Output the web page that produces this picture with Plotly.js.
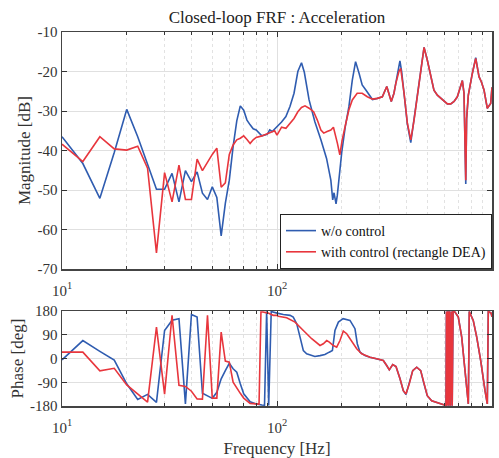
<!DOCTYPE html>
<html>
<head>
<meta charset="utf-8">
<script src="https://cdn.plot.ly/plotly-3.0.1.min.js"></script>
<style>
html,body{margin:0;padding:0;background:#fff;}
#chart{width:499px;height:458px;}
</style>
</head>
<body>
<div id="chart"></div>
<script>
// ---------- data ----------
const freqMagBlue = [10,12.5,15,17.5,20,22.5,25,27.5,30,32.5,35,37.5,40,42.5,45,47.5,50,52.5,55,57.5,60,62.5,65,67.5,70,72.5,75,77.5,80,85,90,92.5,95,100,105,110,115,120,125,130,134,141,150,160,170,178,181.6,184.2,188.2,190.8,194.9,200,208,216,224,232,241,249,259,268,278,293,309,324,340,350,357,363,373,380,390,404,419,434,449,466,483,500,519,537,557,577,598,620,643,666,690,715,728,741,755,762,776,810,840,870,892,918,951,986,1000];
const magBlue = [-36.5,-43.3,-52.1,-40.5,-29.6,-36.5,-43.5,-49.8,-49.8,-45.8,-53.0,-45.1,-47.9,-45.4,-50.8,-52.4,-49.2,-51.9,-61.6,-53.4,-47.5,-39,-32.5,-28.7,-29.8,-32.3,-33.5,-34.5,-34.8,-36.3,-35.9,-34.8,-35.2,-34.1,-32.8,-31.4,-28.8,-25.5,-20,-17.8,-20.2,-27.2,-32.7,-37.3,-42,-47.5,-52.5,-50.7,-53.5,-51.3,-45.8,-40.5,-33.8,-28.9,-22.2,-17.5,-20.5,-23.4,-24.7,-26,-27.1,-26.8,-26.4,-23.8,-27.6,-25.5,-23,-20.5,-17.3,-20,-25.5,-33.3,-38,-32.3,-26.4,-19.6,-13.9,-17.1,-21.3,-24.7,-26,-26.8,-27.6,-28.2,-28.2,-27.6,-26.4,-23.8,-22.3,-25.5,-48.5,-32,-26,-20.5,-16.5,-21.3,-22.6,-24.7,-29.3,-28.1,-24];

const freqMagRed = [10,12.5,15,17.5,20,22.5,25,27.5,30,32.5,35,37.5,40,42.5,45,47.5,50,52.5,55,57.5,60,62.5,65,67.5,70,72.5,75,77.5,80,85,90,95,97.5,100,105,110,115,120,125,130,135,141,148,154,160,165,171,178,183,186,191,196,201,209,216,224,236,249,263,278,293,309,324,340,350,357,363,369,376,390,404,419,434,449,466,483,500,519,537,557,577,598,620,643,666,690,715,728,741,755,762,776,810,840,870,892,918,951,986,1000];
const magRed = [-38.4,-42.8,-36.5,-39.6,-39.9,-38.9,-44.5,-65.9,-45.6,-53,-43.7,-52.4,-52.4,-42.2,-45.1,-42.8,-41,-39.4,-49.3,-48.2,-41,-38.6,-37.3,-36.9,-36.3,-37.2,-38.2,-37.3,-36.7,-36.3,-35.7,-35.2,-35,-36.1,-34.1,-34.4,-33.1,-31.9,-30.2,-29.1,-28.7,-29.3,-30.2,-32.3,-34.8,-35.6,-35.2,-34.8,-34.1,-36,-38.2,-41.1,-37.3,-33.1,-29.7,-27.2,-25.5,-25.5,-26.4,-27.0,-26.8,-26.4,-23.8,-27.6,-25.5,-23,-21.5,-20,-19.2,-25.5,-33.1,-37.3,-32.3,-26.4,-19.6,-13.9,-17.1,-21.3,-24.7,-26,-26.8,-27.6,-28.2,-28.2,-27.6,-26.4,-23.8,-22.3,-25.5,-47.5,-32,-26,-20.5,-16.7,-21.3,-22.6,-24.7,-29.3,-28.1,-24];

const freqPhaseBlue = [10,12.5,15,17.5,20,22.5,25,27.5,30,32.5,35,37.5,40,42.5,45,47.5,50,52.5,55,57.5,60,62.5,65,67.5,70,75,80,85,87.5,89.5,91.5,94,97,100,107,115,119,123.5,128,132.6,137.4,145,150,158.5,167,175,181,186,193,203,218.5,230.5,236.3,243.2,256.6,270.8,290.9,312.2,323.7,332.9,345.3,357.7,373.4,386.8,398.1,412.4,427.8,446.5,466,482.7,500,524,553,594,611,614,618,623,628,634,640,647,653,659,673,697,723,749,776,784,818,849,886,928,951,961,990,1000];
const phaseBlue = [-5,68,27,-6,-96,-155,-136,-166,106,145,151,-172,167,157,-132,-141,-151,-128,-77,-46,-18,-39,-52,-96,-134,-164,-172,-176,-177,179,-178,178,174,172,167,163.5,157,132,81,30,17.7,11,7.5,11,15,24,30,106,138,151,144.5,113,56,24,11,5,-1.3,-7.7,-26.7,-43,-23,-30.5,-77,-122,-137,-96,-46,-33,-46,-96,-141,-160,-166,-175,-178,178,-178,179,-179,179,-179,178,-179,179,176,157,81,-46,-172,178,144.5,81,-8,-122,-172,178,172,158];

const freqPhaseRed = [10,12.5,15,17.5,20,22.5,25,27.5,30,32.5,35,37.5,40,42.5,45,47.5,50,52.5,55,57.5,60,62.5,65,67.5,70,75,80,82.5,84.2,86,91,96,99.7,101.4,110.9,121.3,132.6,145,158.5,164.2,170.3,175.1,182.8,189.5,196.3,203.4,211,222.5,234.8,247.7,270.8,290.9,312.2,323.7,332.9,345.3,357.7,373.4,386.8,398.1,412.4,427.8,446.5,466,482.7,500,524,553,594,611,614,618,623,628,634,640,647,653,659,673,697,723,749,776,784,818,849,886,928,951,961,990,1000];
const phaseRed = [24,24,-47,-37,-100,-133,-165,119,-135,164,-102,-106,-124,-153,-154,164,-150,-150,100,-10,-14,-90,-109,-132,-150,-170,-172,-173,176,176,172,163.5,163.5,160,154.6,138,106,75,49.4,56,68,62,49,43,68,104,94,68,37,18,5,-1.3,-7.7,-26.7,-43,-23,-30.5,-77,-122,-134,-96,-46,-33,-46,-96,-141,-160,-166,-175,-178,178,-178,179,-179,179,-179,178,-179,179,176,157,81,-46,-172,178,144.5,81,-8,-122,-172,178,172,158];

const freqTickVals = [10,100,1000];
const freqTickText = ['10<sup>1</sup>','10<sup>2</sup>','10<sup>3</sup>'];
const freqMinor = [20,30,40,50,60,70,80,90,200,300,400,500,600,700,800,900];
const magTickVals = [-70,-60,-50,-40,-30,-20,-10];
const magTickText = ['-70','-60','-50','-40','-30','-20','-10'];
const phaseTickVals = [-180,-90,0,90,180];
const phaseTickText = ['-180','-90','0','90','180'];

// ---------- styling ----------
const BLUE = '#2f5cb0';
const RED = '#e8363d';
const FONT = "'Liberation Serif', 'Times New Roman', Times, serif";
const TXT = '#333333';

const xBase = {
  type: 'log', range: [1, 3],
  tickmode: 'array', tickvals: freqTickVals, ticktext: freqTickText,
  ticks: 'inside', ticklen: 5, tickwidth: 1, tickcolor: '#333',
  showline: true, linecolor: '#444', linewidth: 1.5, mirror: 'allticks',
  showgrid: true, gridcolor: '#e0e0e0', gridwidth: 1,
  minor: {tickmode: 'array', tickvals: freqMinor, ticks: 'inside', ticklen: 3, tickcolor: '#333',
          showgrid: true, gridcolor: '#e2e2e2', griddash: 'dot', gridwidth: 1},
  zeroline: false, ticklabelstandoff: 7,
  tickfont: {family: FONT, size: 15, color: TXT}
};
const yBase = {
  ticks: 'inside', ticklen: 5, tickwidth: 1, tickcolor: '#333',
  showline: true, linecolor: '#444', linewidth: 1.5, mirror: 'allticks',
  showgrid: true, gridcolor: '#e0e0e0', gridwidth: 1,
  zeroline: false, tickmode: 'array',
  tickfont: {family: FONT, size: 15, color: TXT}
};

const traces = [
  {x: freqMagBlue, y: magBlue, type: 'scatter', mode: 'lines', name: 'w/o control',
   line: {color: BLUE, width: 1.6}, xaxis: 'x', yaxis: 'y'},
  {x: freqMagRed, y: magRed, type: 'scatter', mode: 'lines', name: 'with control (rectangle DEA)',
   line: {color: RED, width: 1.6}, xaxis: 'x', yaxis: 'y'},
  {x: freqPhaseBlue, y: phaseBlue, type: 'scatter', mode: 'lines', name: 'w/o control', showlegend: false,
   line: {color: BLUE, width: 1.6}, xaxis: 'x2', yaxis: 'y2'},
  {x: freqPhaseRed, y: phaseRed, type: 'scatter', mode: 'lines', name: 'with control (rectangle DEA)', showlegend: false,
   line: {color: RED, width: 1.6}, xaxis: 'x2', yaxis: 'y2'}
];

const layout = {
  width: 499, height: 458,
  margin: {l: 62, r: 7, t: 32, b: 52},
  paper_bgcolor: '#fff', plot_bgcolor: '#fff',
  font: {family: FONT, color: TXT},
  title: {text: 'Closed-loop FRF : Acceleration', font: {family: FONT, size: 17, color: '#222'},
          xref: 'paper', x: 0.5, xanchor: 'center', yref: 'container', y: 0.962, yanchor: 'middle'},
  xaxis: Object.assign({}, xBase, {domain: [0, 1], anchor: 'y'}),
  yaxis: Object.assign({}, yBase, {domain: [0.3663, 1], anchor: 'x', range: [-70, -10],
          tickvals: magTickVals, ticktext: magTickText,
          title: {text: 'Magnitude [dB]', font: {family: FONT, size: 17, color: TXT}, standoff: 2}}),
  xaxis2: Object.assign({}, xBase, {domain: [0, 1], anchor: 'y2',
          title: {text: 'Frequency [Hz]', font: {family: FONT, size: 17, color: TXT}, standoff: 10}}),
  yaxis2: Object.assign({}, yBase, {domain: [0, 0.254], anchor: 'x2', range: [-180, 180],
          tickvals: phaseTickVals, ticktext: phaseTickText,
          title: {text: 'Phase [deg]', font: {family: FONT, size: 17, color: TXT}, standoff: 2}}),
  legend: {x: 1, xanchor: 'right', y: 0.3663, yanchor: 'bottom',
           bgcolor: '#fff', bordercolor: '#222', borderwidth: 1,
           font: {family: FONT, size: 14, color: '#111'}, tracegroupgap: 0},
  showlegend: true
};

Plotly.newPlot('chart', traces, layout, {displayModeBar: false, staticPlot: true});
</script>
</body>
</html>
